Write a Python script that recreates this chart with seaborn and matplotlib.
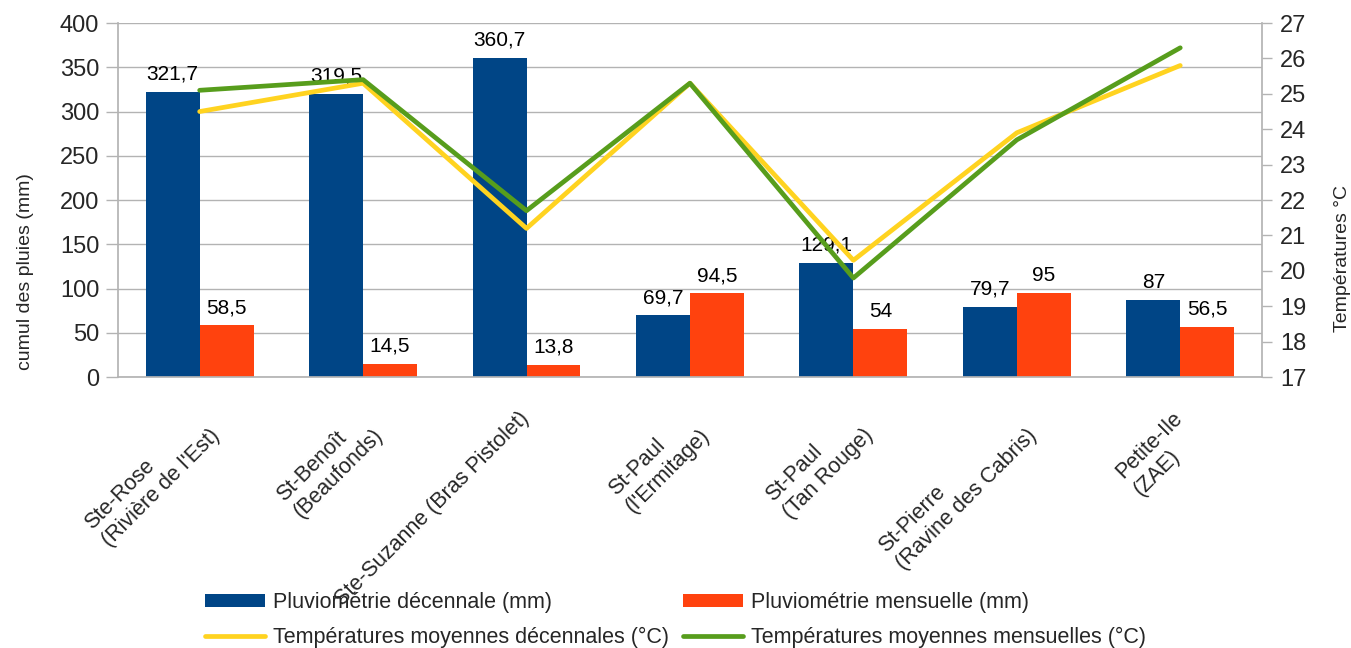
import numpy as np
import pandas as pd
import matplotlib
matplotlib.use("Agg")
import matplotlib.pyplot as plt
import matplotlib.transforms as mtransforms
import seaborn as sns

# data
stations = ["Ste-Rose\n(Rivière de l'Est)", "St-Benoît\n(Beaufonds)",
            "Ste-Suzanne (Bras Pistolet)", "St-Paul\n(l'Ermitage)",
            "St-Paul\n(Tan Rouge)", "St-Pierre\n(Ravine des Cabris)",
            "Petite-Ile\n(ZAE)"]
pluie_dec = [321.7, 319.5, 360.7, 69.7, 129.1, 79.7, 87]
pluie_mens = [58.5, 14.5, 13.8, 94.5, 54, 95, 56.5]
temp_dec = [24.5, 25.3, 21.2, 25.3, 20.3, 23.9, 25.8]
temp_mens = [25.1, 25.4, 21.7, 25.3, 19.8, 23.7, 26.3]

lab_pdec = "Pluviométrie décennale (mm)"
lab_pmens = "Pluviométrie mensuelle (mm)"
lab_tdec = "Températures moyennes décennales (°C)"
lab_tmens = "Températures moyennes mensuelles (°C)"

blue, orange, yellow, green = "#004586", "#ff420e", "#ffd320", "#579d1c"
grey = "#b3b3b3"

sns.set_theme(style="white")
plt.rcParams["font.family"] = ["Liberation Sans", "DejaVu Sans"]

df = pd.DataFrame({
    "station": stations * 2,
    "serie": [lab_pdec] * len(stations) + [lab_pmens] * len(stations),
    "pluie": pluie_dec + pluie_mens,
})

fig, ax = plt.subplots(figsize=(13.51, 6.48), dpi=100)
fig.subplots_adjust(left=0.0873, right=0.9341, bottom=0.418, top=0.9645)

sns.barplot(data=df, x="station", y="pluie", hue="serie",
            palette=[blue, orange], width=0.66, gap=0, saturation=1,
            linewidth=0, legend=False, ax=ax)

for cont in ax.containers:
    ax.bar_label(cont, labels=[f"{v:g}".replace(".", ",") for v in cont.datavalues],
                 padding=6, fontsize=15, color="black")

ax2 = ax.twinx()
pos = np.arange(len(stations))
sns.lineplot(x=pos, y=temp_dec, color=yellow, lw=3.4, ax=ax2, label=lab_tdec, legend=False)
sns.lineplot(x=pos, y=temp_mens, color=green, lw=3.4, ax=ax2, label=lab_tmens, legend=False)

ax.set_xlim(-0.5, len(stations) - 0.5)
ax.set_ylim(0, 400)
ax.set_yticks(range(0, 401, 50))
ax2.set_ylim(17, 27)
ax2.set_yticks(range(17, 28))

ax.set_xticks(pos)
ax.set_xticks(np.arange(-0.5, len(stations)), minor=True)
ax.tick_params(axis="x", which="major", length=0, pad=22)
ax.tick_params(axis="x", which="minor", length=7, color=grey, width=1)
ax.tick_params(axis="y", length=8.5, color=grey, width=1, labelsize=17, pad=5, left=True)
ax2.tick_params(axis="y", length=7, color=grey, width=1, labelsize=17, pad=6, right=True)
ax.set_xticklabels(stations, rotation=45, ha="right", va="top",
                   rotation_mode="anchor", multialignment="left", fontsize=15.5)
# nudge the rotated labels a little to the left (after tick_params, which resets transforms)
shift = mtransforms.ScaledTranslation(-8 / 100, 0, fig.dpi_scale_trans)
for lbl in ax.get_xticklabels():
    lbl.set_transform(lbl.get_transform() + shift)

ax.yaxis.grid(True, color=grey, lw=1)
ax.set_axisbelow(True)
for s in ["top", "right"]:
    ax.spines[s].set_visible(False)
for s in ["left", "bottom"]:
    ax.spines[s].set_color(grey)
for s in ["top", "left", "bottom"]:
    ax2.spines[s].set_visible(False)
ax2.spines["right"].set_color(grey)

ax.set_xlabel("")
ax.set_ylabel("cumul des pluies (mm)", fontsize=14)
ax.yaxis.set_label_coords(-0.073, 0.297)
ax2.set_ylabel("Températures °C", fontsize=14)
ax2.yaxis.set_label_coords(1.063, 0.336)

handles = [ax.containers[0], ax2.lines[0], ax.containers[1], ax2.lines[1]]
labels = [lab_pdec, lab_tdec, lab_pmens, lab_tmens]
fig.legend(handles, labels, loc="center", bbox_to_anchor=(0.5, 0.043), ncol=2,
           frameon=False, fontsize=15.5, handlelength=2.8, handleheight=0.6,
           handletextpad=0.37, labelspacing=0.65, columnspacing=0.65)

fig.savefig("out.png", dpi=100)
